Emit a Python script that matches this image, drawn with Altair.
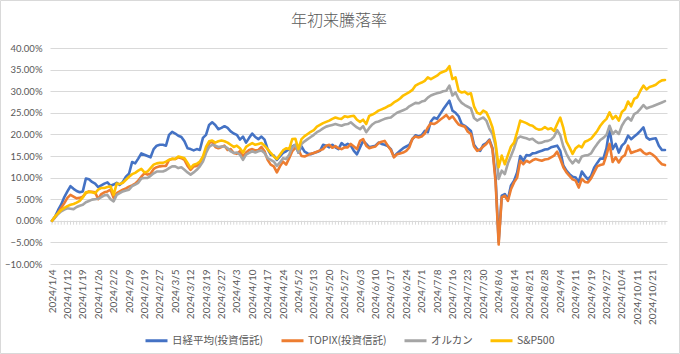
import altair as alt
import pandas as pd

# ---------------- data ----------------
series_names = ["日経平均(投資信託)", "TOPIX(投資信託)", "オルカン", "S&P500"]
series_colors = ["#4472C4", "#ED7D31", "#A5A5A5", "#FFC000"]
chart_title = "年初来騰落率"

jp_holidays = ["2024-01-08", "2024-02-12", "2024-02-23", "2024-03-20", "2024-04-29",
               "2024-05-03", "2024-05-06", "2024-07-15", "2024-08-12", "2024-09-16",
               "2024-09-23", "2024-10-14"]
trading_days = pd.bdate_range("2024-01-04", "2024-10-25", freq="C", holidays=jp_holidays)
dates = [f"{d.year}/{d.month}/{d.day}" for d in trading_days]
label_dates = dates[::5]

y_ticks = [-0.10, -0.05, 0.0, 0.05, 0.10, 0.15, 0.20, 0.25, 0.30, 0.35, 0.40]

nikkei = [
    0.0, 1.0, 2.5, 3.8, 5.5, 6.8, 8.0, 7.4, 6.9, 6.6,
    6.8, 9.8, 9.6, 9.0, 8.6, 7.8, 8.2, 8.6, 8.9, 8.1,
    8.4, 8.8, 8.3, 9.0, 10.2, 10.9, 13.6, 13.3, 14.4, 15.6,
    15.3, 15.0, 14.7, 16.6, 17.4, 17.6, 17.6, 17.4, 19.9, 20.6,
    20.2, 19.7, 19.4, 18.4, 16.8, 16.6, 16.3, 16.6, 16.4, 19.2,
    19.9, 22.2, 22.8, 22.2, 21.2, 21.5, 21.9, 21.5, 20.7, 20.2,
    19.9, 18.8, 19.5, 18.1, 19.2, 20.2, 19.4, 18.9, 19.5, 18.8,
    16.6, 15.3, 15.1, 14.1, 14.9, 15.7, 16.1, 16.6, 17.2, 17.6,
    15.8, 17.2, 16.0, 15.6, 15.4, 15.7, 15.9, 16.2, 17.6, 17.4,
    17.0, 17.6, 17.0, 16.6, 18.0, 17.4, 17.8, 17.4, 16.2, 15.4,
    17.0, 18.5, 17.8, 17.0, 17.2, 17.4, 18.1, 17.8, 17.6, 17.3,
    16.6, 14.8, 15.6, 16.2, 16.8, 17.2, 17.6, 18.9, 19.8, 19.5,
    19.8, 20.8, 20.5, 23.0, 23.9, 23.6, 24.7, 25.8, 26.8, 27.8,
    25.5, 25.0, 24.2, 22.4, 22.0, 21.4, 20.8, 17.6, 16.6, 16.2,
    17.6, 18.0, 18.8, 16.8, 10.0, -4.8, 5.8, 6.2, 5.0, 8.2,
    9.3, 11.2, 15.0, 13.9, 15.2, 15.1, 15.6, 15.7, 16.0, 16.2,
    16.5, 16.6, 17.0, 17.2, 17.4, 16.2, 12.8, 11.6, 10.8, 10.2,
    10.0, 9.0, 11.4, 10.4, 9.6, 10.4, 12.3, 13.4, 14.4, 14.4,
    16.8, 21.4, 16.6, 17.8, 15.8, 17.4, 18.1, 19.7, 18.9, 19.5,
    20.1, 20.8, 21.6, 19.3, 18.8, 19.0, 19.1, 17.4, 16.4, 16.4,
]

topix = [
    0.0, 0.8, 1.8, 3.0, 4.1, 5.3, 6.0, 5.6, 5.2, 5.3,
    5.6, 6.4, 6.8, 6.7, 6.6, 5.0, 6.2, 6.6, 6.8, 7.2,
    5.3, 6.4, 6.8, 7.2, 7.5, 7.9, 8.2, 8.6, 9.3, 10.2,
    11.0, 10.7, 10.9, 12.0, 12.4, 12.6, 12.7, 12.7, 14.1, 14.3,
    14.3, 14.7, 14.5, 14.1, 12.7, 11.8, 12.6, 12.7, 13.4, 14.1,
    16.1, 18.0, 18.4, 17.1, 16.8, 17.1, 17.4, 16.4, 16.6, 15.7,
    15.5, 16.1, 14.9, 15.8, 16.4, 16.6, 16.3, 16.4, 17.1, 16.1,
    14.1, 13.0, 12.6, 11.2, 12.6, 13.7, 13.0, 14.5, 16.1, 16.9,
    16.4, 15.0, 14.9, 15.2, 15.5, 15.7, 16.0, 16.3, 16.6, 17.4,
    17.6, 16.9, 17.3, 16.8, 16.6, 17.0, 17.0, 17.8, 17.2, 16.6,
    18.5, 18.9, 17.4, 16.8, 17.0, 17.2, 18.0, 18.3, 18.5, 17.4,
    16.4, 14.7, 15.4, 15.6, 15.8, 16.2, 17.0, 19.0, 19.5, 19.3,
    19.5, 20.2, 21.6, 22.6, 22.4, 22.8, 23.4, 23.9, 24.5, 23.6,
    24.2, 23.2, 22.3, 22.0, 21.8, 20.6, 20.1, 17.2, 16.2, 16.5,
    17.2, 17.8, 18.6, 16.5, 9.0, -5.5, 5.4, 5.8, 4.6, 7.3,
    8.9, 10.0, 13.9, 13.1, 13.9, 13.5, 14.0, 14.3, 14.1, 13.9,
    14.2, 14.3, 14.7, 15.1, 16.0, 14.3, 12.4, 11.2, 10.4, 9.6,
    9.3, 7.7, 9.7, 9.0, 8.9, 9.8, 11.2, 12.6, 12.9, 13.1,
    15.2, 17.8, 13.6, 14.7, 13.5, 14.7, 15.2, 17.4, 15.7, 16.0,
    16.2, 16.5, 15.8, 15.4, 15.7, 15.3, 14.7, 13.8, 13.1, 12.9,
]

orukan = [
    0.0, 0.8, 1.6, 2.2, 2.6, 2.9, 2.8, 2.7, 3.2, 3.5,
    3.7, 4.3, 4.6, 4.9, 5.0, 5.1, 5.5, 5.9, 6.0, 5.0,
    4.5, 6.0, 6.4, 6.8, 7.0, 7.2, 8.0, 8.4, 8.8, 9.8,
    9.9, 9.9, 10.4, 11.0, 11.4, 11.4, 11.4, 11.7, 12.2, 12.6,
    12.6, 12.2, 12.4, 11.8, 11.2, 10.7, 11.2, 11.8, 12.6, 13.7,
    15.7, 17.1, 17.6, 17.4, 17.1, 17.2, 17.2, 16.8, 16.1, 15.7,
    15.8, 15.3, 14.1, 15.3, 15.7, 16.1, 15.8, 16.1, 16.3, 15.7,
    14.5, 14.1, 13.7, 12.7, 13.5, 14.5, 14.3, 15.3, 17.0, 17.6,
    15.8, 17.8, 18.4, 18.9, 19.4, 19.9, 20.5, 20.9, 21.4, 21.8,
    22.0, 22.2, 22.4, 22.2, 22.0, 22.3, 22.4, 22.8, 22.2, 21.6,
    21.2, 21.9, 20.5, 21.5, 22.3, 22.8, 23.0, 23.3, 23.6, 23.8,
    23.9, 24.5, 25.0, 25.3, 25.6, 25.9, 26.5, 26.9, 27.3, 27.2,
    27.6, 27.8, 28.5, 29.0, 29.3, 29.5, 29.7, 30.0, 30.1, 31.3,
    29.0, 29.7, 28.2, 27.3, 26.8, 26.4, 26.0, 23.8, 23.2, 23.6,
    23.9, 23.2, 21.3, 20.1, 17.4, 9.7, 11.6, 10.8, 13.3, 15.0,
    16.8, 19.0, 19.5, 19.3, 19.1, 18.8, 19.0, 18.4, 18.0, 18.1,
    18.4, 18.5, 18.8, 19.5, 21.0, 19.8, 17.2, 15.5, 14.2, 13.3,
    14.2, 13.5, 14.9, 15.1, 15.2, 15.6, 16.8, 17.8, 18.7, 19.2,
    19.9, 22.0, 20.1, 20.8, 20.1, 22.0, 23.2, 23.9, 23.2, 24.7,
    25.1, 25.9, 26.8, 26.0, 26.3, 26.5, 26.8, 27.1, 27.4, 27.7,
]

sp500 = [
    0.0, 1.0, 1.8, 2.5, 3.0, 3.4, 3.7, 3.9, 4.2, 4.6,
    5.4, 6.6, 6.7, 6.6, 6.4, 7.2, 7.6, 7.6, 7.8, 8.0,
    6.0, 8.6, 8.5, 8.8, 9.5, 10.2, 10.8, 11.1, 11.6, 12.0,
    11.2, 11.4, 12.2, 13.0, 13.3, 13.4, 13.4, 13.7, 14.1, 14.4,
    14.3, 14.9, 14.7, 14.5, 13.4, 12.2, 13.0, 13.2, 13.7, 14.9,
    17.1, 18.4, 18.6, 18.1, 18.4, 18.6, 18.4, 18.1, 17.6, 17.1,
    17.4, 16.8, 15.8, 17.1, 17.6, 18.0, 17.6, 17.8, 18.0, 17.4,
    16.6, 15.7, 14.9, 14.3, 15.3, 16.3, 16.8, 16.6, 18.9, 19.0,
    16.6, 18.9, 19.6, 20.1, 20.6, 21.0, 21.8, 22.2, 22.6, 22.9,
    23.2, 23.6, 23.9, 23.7, 23.6, 24.2, 24.0, 24.2, 24.3, 23.4,
    22.9, 23.4, 22.4, 24.3, 24.6, 25.0, 25.5, 25.8, 26.1, 26.5,
    26.8, 27.4, 27.8, 28.3, 29.0, 29.4, 29.8, 30.3, 31.3, 31.7,
    32.0, 32.4, 33.2, 32.8, 33.2, 33.6, 34.2, 34.5, 34.8, 35.8,
    32.8, 33.2, 30.1, 29.7, 29.9, 29.3, 29.5, 26.5, 25.0, 24.7,
    25.5, 25.1, 23.6, 21.6, 18.0, 12.4, 15.1, 13.1, 15.2, 17.2,
    18.1, 20.5, 23.2, 22.9, 22.6, 22.2, 22.0, 21.4, 21.1, 21.2,
    21.7, 21.2, 21.4, 20.8, 22.4, 23.9, 21.5, 18.3, 17.0, 15.5,
    16.8, 17.4, 17.0, 18.3, 18.6, 19.0, 19.9, 20.8, 22.0, 22.9,
    23.6, 25.1, 23.6, 24.3, 23.2, 25.2, 25.8, 27.6, 26.5, 28.2,
    28.6, 30.1, 31.3, 30.4, 31.0, 31.2, 31.5, 32.1, 32.5, 32.6,
]

all_series = [nikkei, topix, orukan, sp500]
for s in all_series:
    assert len(s) == len(dates), (len(s), len(dates))

rows = []
for name, vals in zip(series_names, all_series):
    for d, v in zip(dates, vals):
        rows.append({"date": d, "series": name, "value": v / 100.0})
df = pd.DataFrame(rows)
tick_df = pd.DataFrame({"date": dates})

# ---------------- chart ----------------
TEXT = "#595959"
GRID = "#d9d9d9"
NUM_FONT = "Lato"
JP_FONT = "Noto Sans CJK JP"

x_scale = alt.Scale(type="point", domain=dates, padding=0.65)
y_scale = alt.Scale(domain=[-0.10, 0.40], nice=False, zero=False)

x_axis = alt.Axis(values=label_dates, labelAngle=-90, domain=False, ticks=False,
                  labelPadding=5, labelFontSize=10, labelFont=NUM_FONT,
                  labelColor=TEXT, grid=False, labelOverlap=False)
y_axis = alt.Axis(values=y_ticks, format=".2%", domain=False, ticks=False,
                  labelPadding=8, labelFontSize=9.5, labelFont=NUM_FONT,
                  labelColor=TEXT, grid=True, gridColor=GRID, gridWidth=1)

frame = alt.Chart(alt.Data(values=[{}])).mark_rect(
    fillOpacity=0, stroke=GRID, strokeWidth=1
).encode(
    x=alt.value(-49.5), x2=alt.value(629.5), y=alt.value(-47.5), y2=alt.value(305.5)
)

title_text = alt.Chart(alt.Data(values=[{"t": chart_title}])).mark_text(
    font=JP_FONT, fontSize=16, fontWeight=300, color=TEXT, align="center", baseline="middle"
).encode(
    text="t:N", x=alt.value(289), y=alt.value(-27)
)

ticks = alt.Chart(tick_df).mark_rule(color=GRID, strokeWidth=1).encode(
    x=alt.X("date:O", scale=x_scale, axis=x_axis, title=None),
    y=alt.datum(0.0, scale=y_scale, axis=y_axis, title=None),
    y2=alt.datum(-0.009),
)

lines = alt.Chart(df).mark_line(strokeWidth=2.6, strokeJoin="round", strokeCap="round").encode(
    x=alt.X("date:O", scale=x_scale, axis=x_axis, title=None),
    y=alt.Y("value:Q", scale=y_scale, axis=y_axis, title=None),
    color=alt.Color(
        "series:N",
        scale=alt.Scale(domain=series_names, range=series_colors),
        legend=alt.Legend(
            title=None, orient="none", legendX=94, legendY=280, direction="horizontal",
            symbolType="stroke", symbolSize=484, symbolStrokeWidth=3,
            labelFont=JP_FONT, labelFontSize=10.5, labelColor=TEXT,
            columnPadding=11, labelOffset=3,
        ),
    ),
)

chart = alt.layer(frame, ticks, lines, title_text).properties(
    width=617,
    height=216,
    padding={"left": 50, "top": 48, "right": 13, "bottom": 90},
    autosize=alt.AutoSizeParams(type="none"),
    background="white",
).configure_view(stroke=None)

chart.save("out.html", embed_options={"renderer": "svg", "actions": False})
